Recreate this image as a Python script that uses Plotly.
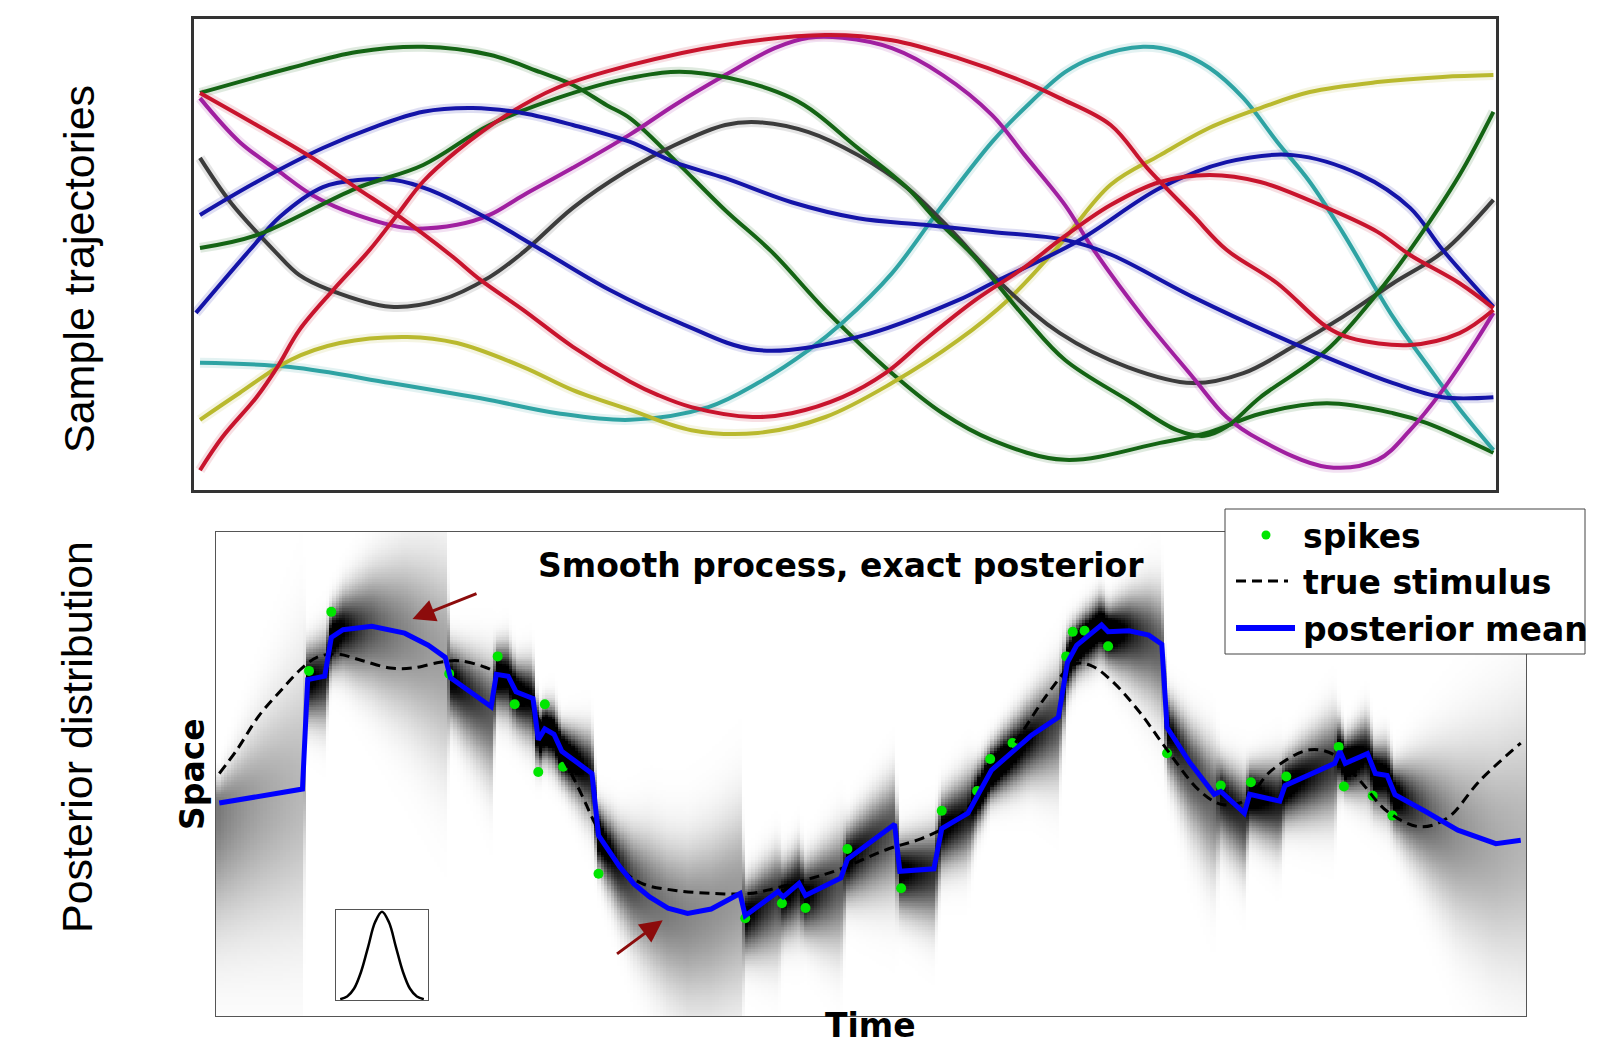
import numpy as np
import plotly.graph_objects as go

W, H = 1599, 1047


def fx(px):
    """Canvas pixel column -> paper x."""
    return px / W


def fy(py):
    """Canvas pixel row -> paper y."""
    return 1 - py / H


# ---------------- top panel: sample trajectories (time 0-100, space 0-100) ----------------
green_a_t = [0.46, 7.4, 12.5, 17.6, 22.7, 26.6, 29.1, 31.7, 33.5, 36.9, 40.8, 44.4, 48.5, 53.6, 57.5,
             61.3, 66.9, 74.2, 78.0, 81.9, 87.0, 92.1, 94.7, 99.8]
green_a_v = [84.3, 89.6, 93.0, 94.1, 92.4, 88.7, 86.0, 81.7, 78.9, 70.1, 59.4, 50.5, 38.2, 24.8, 16.3,
             10.6, 6.4, 10.0, 12.3, 16.2, 18.4, 16.3, 14.2, 7.9]

green_b_t = [0.46, 4.8, 12.5, 17.6, 22.7, 27.9, 33.5, 38.2, 45.9, 51.0, 54.8, 56.9, 59.8, 63.8, 66.9,
             71.7, 75.5, 77.6, 79.3, 81.9, 87.0, 90.9, 93.4, 97.2, 99.8]
green_b_v = [51.4, 54.1, 64.1, 69.0, 77.5, 83.2, 87.5, 88.7, 83.2, 72.6, 64.1, 57.7, 49.9, 36.7, 27.6,
             19.1, 12.7, 11.5, 13.4, 19.7, 29.7, 41.8, 51.0, 66.9, 80.3]

red_a_t = [0.46, 4.8, 9.1, 12.5, 15.6, 19.7, 22.0, 25.3, 29.1, 33.5, 35.6, 38.2, 42.9, 45.9, 49.8,
           53.1, 56.1, 60.0, 63.8, 66.5, 70.4, 74.2, 78.0, 81.9, 87.0, 90.9, 93.4, 97.2, 99.8]
red_a_v = [84.3, 77.5, 70.5, 64.1, 58.4, 49.9, 44.6, 38.2, 30.4, 23.0, 20.2, 17.6, 15.5, 16.3, 19.7,
           24.8, 31.8, 40.3, 47.3, 53.1, 60.5, 65.4, 66.9, 65.4, 59.9, 54.8, 49.9, 43.9, 38.6]

red_b_t = [0.46, 2.2, 4.8, 6.4, 8.1, 10.7, 13.5, 15.6, 17.6, 20.2, 24.0, 27.9, 33.5, 40.8, 48.5,
           53.6, 58.7, 63.8, 66.5, 70.4, 73.2, 76.7, 79.3, 83.2, 87.0, 88.8, 93.4, 97.2, 99.8]
red_b_v = [4.2, 11.3, 19.7, 26.1, 34.0, 42.5, 51.0, 58.4, 65.5, 72.0, 79.6, 85.4, 90.2, 94.5, 96.6,
           95.5, 91.7, 86.6, 83.2, 77.5, 68.4, 58.4, 51.0, 43.9, 34.6, 32.3, 30.8, 33.3, 38.2]

magenta_t = [0.46, 3.5, 6.6, 9.1, 12.5, 16.4, 20.2, 22.7, 25.3, 29.1, 33.5, 36.9, 40.8, 44.6, 47.2,
             49.8, 53.6, 57.5, 61.3, 63.8, 66.9, 69.0, 72.9, 76.7, 79.3, 81.9, 87.0, 90.9, 93.4, 95.9,
             98.5, 99.8]
magenta_v = [83.2, 73.9, 67.5, 62.6, 58.4, 55.6, 56.3, 58.4, 62.6, 68.4, 75.5, 81.7, 88.1, 93.8, 96.0,
             96.0, 93.8, 88.1, 79.6, 71.1, 60.5, 51.4, 36.7, 24.0, 15.5, 10.6, 4.9, 6.4, 12.7, 21.2,
             31.8, 37.6]

blue_a_t = [0.46, 4.8, 9.9, 13.7, 17.6, 21.4, 25.3, 29.1, 33.5, 36.9, 40.8, 45.9, 51.0, 56.1, 61.3,
            66.9, 70.4, 76.7, 84.4, 92.1, 95.9, 99.8]
blue_a_v = [58.4, 65.4, 72.6, 76.9, 80.3, 81.1, 80.0, 77.5, 73.9, 69.6, 66.2, 61.1, 57.7, 56.3, 54.8,
            53.1, 50.0, 41.0, 31.2, 22.7, 19.7, 19.7]

blue_b_t = [0.15, 4.3, 6.6, 9.9, 12.6, 15.4, 18.1, 22.3, 26.3, 31.9, 37.3, 43.3, 51.0, 58.7, 61.3,
            67.8, 74.2, 79.3, 84.4, 89.6, 93.4, 95.9, 99.8]
blue_b_v = [37.6, 51.0, 58.0, 64.3, 65.8, 65.8, 63.7, 58.0, 51.6, 42.5, 35.5, 29.7, 32.5, 40.3, 43.9,
            52.7, 64.1, 69.6, 71.1, 66.9, 59.9, 51.0, 38.9]

gray_t = [0.46, 2.8, 6.1, 8.1, 10.4, 15.1, 18.9, 22.7, 25.3, 29.1, 33.1, 36.9, 40.8, 43.3, 47.2,
          51.0, 54.8, 57.5, 62.5, 66.5, 71.7, 76.7, 80.6, 84.4, 88.2, 92.1, 95.9, 99.8]
gray_v = [70.5, 61.1, 51.0, 45.6, 42.5, 38.9, 40.3, 45.2, 50.5, 59.9, 67.5, 73.2, 77.5, 78.1, 76.0,
          71.1, 64.1, 57.0, 42.5, 33.3, 26.1, 22.7, 24.8, 30.4, 36.7, 43.9, 50.5, 61.6]

cyan_t = [0.46, 7.4, 15.1, 22.7, 27.9, 33.5, 39.5, 43.3, 47.2, 49.8, 53.6, 57.5, 61.3, 63.8, 66.9,
          69.0, 72.9, 75.5, 78.0, 80.6, 83.2, 85.7, 88.2, 92.1, 94.7, 97.2, 99.8]
cyan_v = [27.0, 26.1, 22.7, 19.1, 16.3, 14.9, 17.6, 22.7, 29.7, 35.5, 46.0, 60.5, 73.9, 81.1, 88.7,
          91.7, 94.1, 93.0, 89.6, 83.2, 73.9, 65.4, 54.8, 36.7, 26.6, 17.2, 8.5]

yellow_t = [0.46, 3.5, 7.4, 11.2, 16.4, 20.2, 25.3, 29.1, 33.5, 38.2, 43.3, 48.5, 53.6, 58.7, 62.5,
            66.5, 70.4, 74.2, 78.0, 81.9, 85.7, 90.9, 95.9, 99.8]
yellow_v = [14.9, 20.6, 27.6, 31.2, 32.5, 31.2, 26.1, 21.2, 17.0, 12.7, 12.1, 15.5, 22.7, 31.8, 40.3,
            52.1, 64.8, 71.1, 76.9, 81.1, 84.5, 86.6, 87.7, 88.1]

# ---------------- bottom panel: posterior over space for each time ----------------
post_t = [0.25, 6.6, 7.0, 8.3, 8.8, 9.7, 11.9, 14.4, 16.2, 17.5, 17.9, 21.0, 21.4, 22.3, 22.9,
          24.2, 24.6, 25.1, 25.8, 26.4, 28.7, 29.2, 30.8, 31.9, 33.1, 34.5, 36.0, 37.8, 40.0, 40.4,
          42.9, 43.3, 44.5, 45.0, 47.7, 48.2, 51.8, 52.2, 54.8, 55.4, 57.4, 58.1, 59.2, 62.2, 64.3,
          65.0, 65.7, 67.6, 68.1, 69.7, 71.2, 72.2, 72.6, 74.3, 76.2, 76.7, 78.5, 78.9, 81.2, 81.6,
          85.4, 85.8, 86.2, 87.9, 88.5, 89.4, 90.0, 92.3, 94.8, 97.7, 99.6]
post_mean = [44.0, 46.9, 69.5, 70.2, 78.2, 79.8, 80.5, 79.1, 76.6, 74.1, 69.9, 63.9, 70.6, 70.2, 67.0,
             65.6, 57.1, 59.3, 58.2, 54.7, 50.1, 37.3, 30.9, 27.3, 24.6, 22.3, 21.2, 22.1, 25.3, 20.7,
             25.7, 24.6, 27.4, 24.9, 28.5, 32.4, 39.6, 29.9, 30.4, 38.7, 41.9, 45.5, 50.8, 57.9, 61.7,
             73.1, 76.6, 80.8, 79.4, 79.6, 78.7, 76.8, 59.6, 52.5, 45.8, 46.4, 41.9, 45.8, 44.4, 47.6,
             52.2, 54.7, 52.2, 54.2, 50.1, 49.7, 45.7, 42.3, 38.4, 35.6, 36.3]
# spread of the posterior above and below the mean
post_sd_up = [3, 17, 4, 5, 3.5, 4.5, 7, 10, 12, 13, 4, 6, 3.5, 4, 3.5,
              4.5, 3, 3, 3.5, 3, 5, 3.5, 5, 6.5, 8, 8.5, 9, 10, 11, 4,
              5, 4, 4.5, 4, 6, 4, 6, 4, 5, 4, 5, 3.5, 3, 4.5, 6,
              3.5, 3, 3.5, 3, 4.5, 6, 7, 4, 5, 6, 4, 5, 3.5, 5, 3.5,
              6, 3.5, 3, 4.5, 3.5, 4, 3.5, 7, 11, 15, 17]
post_sd_down = [16, 19, 5, 6, 4, 5, 8, 11, 13, 14, 5, 9, 4.5, 5, 4.5,
                5.5, 3.5, 3.5, 4, 3.5, 6, 4, 6, 7.5, 9, 10.5, 12, 13, 14, 5,
                8, 5, 6, 5, 9, 5, 9, 5, 7, 5, 6, 4, 3.5, 5.5, 8,
                4, 3.5, 4, 4, 6, 8, 9, 5, 8, 10, 6, 7, 4.5, 6, 4.5,
                7, 4, 3.5, 5.5, 4.5, 5, 4.5, 8, 12, 15, 17]

stim_t = [0.25, 1.6, 3.3, 5.1, 6.5, 7.7, 9.2, 11.2, 13.3, 15.0, 17.1, 18.5, 20.6, 22.0, 23.8,
          24.9, 26.7, 27.9, 29.0, 30.8, 32.5, 35.2, 38.1, 40.7, 42.1, 45.0, 47.5, 51.3, 53.8, 55.9,
          57.6, 59.7, 61.7, 63.8, 65.5, 66.8, 68.4, 70.5, 72.6, 75.1, 76.8, 78.5, 80.6, 83.5, 85.4,
          87.3, 89.4, 91.9, 94.0, 96.5, 99.6]
stim_s = [50.1, 55.0, 62.1, 67.7, 71.7, 74.1, 74.8, 73.4, 71.9, 71.9, 73.1, 73.4, 72.0, 69.9, 64.9,
          60.0, 52.2, 45.8, 39.4, 30.9, 27.4, 25.9, 25.3, 25.3, 26.0, 28.1, 30.2, 34.5, 36.6, 39.4,
          43.7, 50.8, 59.3, 67.7, 72.7, 72.4, 69.2, 62.8, 55.0, 46.5, 43.7, 44.4, 50.8, 55.0, 53.9,
          48.7, 42.3, 39.1, 40.9, 48.7, 56.4]

spike_t = [7.1, 8.8, 17.8, 21.5, 22.8, 24.6, 25.1, 26.5, 29.2, 40.4, 43.2, 45.0, 48.2, 52.3, 55.4,
           58.1, 59.1, 60.8, 64.9, 65.4, 66.3, 68.1, 72.6, 76.7, 79.0, 81.7, 85.7, 86.1, 88.3, 89.8]
spike_s = [71.3, 83.5, 70.7, 74.3, 64.4, 50.4, 64.4, 51.5, 29.4, 20.2, 23.3, 22.3, 34.5, 26.4, 42.4,
           46.5, 53.1, 56.4, 74.3, 79.4, 79.6, 76.4, 54.3, 47.6, 48.3, 49.5, 55.6, 47.4, 45.5, 41.4]

# tuning-curve icon in the corner
tuning_x = [-3, -2.5, -2, -1.5, -1, -0.5, 0, 0.5, 1, 1.5, 2, 2.5, 3]
tuning_y = [0.01, 0.04, 0.13, 0.32, 0.6, 0.88, 1.0, 0.88, 0.6, 0.32, 0.13, 0.04, 0.01]

fig = go.Figure()

# --- sample trajectories, each with a faint halo underneath ---
trajectories = [
    (green_a_t, green_a_v, '#146414'),
    (cyan_t, cyan_v, '#2ea3a3'),
    (yellow_t, yellow_v, '#b9b92e'),
    (gray_t, gray_v, '#3c3c3c'),
    (magenta_t, magenta_v, '#a01fa0'),
    (blue_b_t, blue_b_v, '#1414a8'),
    (green_b_t, green_b_v, '#146414'),
    (red_b_t, red_b_v, '#c8142d'),
    (blue_a_t, blue_a_v, '#1414a8'),
    (red_a_t, red_a_v, '#c8142d'),
]
for t, v, col in trajectories:
    fig.add_trace(go.Scatter(x=t, y=v, mode='lines', xaxis='x', yaxis='y',
                             line=dict(color=col, width=10, shape='spline'), opacity=0.13,
                             hoverinfo='skip', showlegend=False))
for t, v, col in trajectories:
    fig.add_trace(go.Scatter(x=t, y=v, mode='lines', xaxis='x', yaxis='y',
                             line=dict(color=col, width=4, shape='spline'),
                             hoverinfo='skip', showlegend=False))

# --- posterior density image (split-normal per time column) ---
t_grid = np.linspace(0, 100, 401)
s_grid = np.linspace(0, 100, 201)
mu = np.interp(t_grid, post_t, post_mean)
s_up = np.interp(t_grid, post_t, post_sd_up)
s_dn = np.interp(t_grid, post_t, post_sd_down)
offset = s_grid[:, None] - mu[None, :]
spread = np.where(offset >= 0, s_up[None, :], s_dn[None, :])
peak = 5.0 / (0.5 * (s_up + s_dn))
dens = np.clip(peak[None, :] * np.exp(-0.5 * (offset / spread) ** 2), 0, 1)

fig.add_trace(go.Heatmap(x=t_grid, y=s_grid, z=dens, xaxis='x2', yaxis='y2',
                         colorscale=[[0, '#ffffff'], [1, '#000000']], zmin=0, zmax=1,
                         showscale=False, hoverinfo='skip'))

fig.add_trace(go.Scatter(x=spike_t, y=spike_s, mode='markers', xaxis='x2', yaxis='y2',
                         marker=dict(color='#00e600', size=10), name='spikes', showlegend=False))
fig.add_trace(go.Scatter(x=stim_t, y=stim_s, mode='lines', xaxis='x2', yaxis='y2',
                         line=dict(color='black', width=3, dash='10px,6px', shape='spline'),
                         name='true stimulus', showlegend=False))
fig.add_trace(go.Scatter(x=post_t, y=post_mean, mode='lines', xaxis='x2', yaxis='y2',
                         line=dict(color='#0000ff', width=5),
                         name='posterior mean', showlegend=False))

fig.add_trace(go.Scatter(x=tuning_x, y=tuning_y, mode='lines', xaxis='x3', yaxis='y3',
                         line=dict(color='black', width=2.5, shape='spline'),
                         hoverinfo='skip', showlegend=False))

bare = dict(showgrid=False, zeroline=False, showticklabels=False, ticks='', mirror=True, showline=True)

fig.update_layout(
    width=W, height=H,
    margin=dict(l=0, r=0, t=0, b=0),
    paper_bgcolor='white', plot_bgcolor='white',
    showlegend=False,
    xaxis=dict(domain=[fx(194), fx(1496)], range=[0, 100], anchor='y',
               linecolor='#333333', linewidth=2.5, **bare),
    yaxis=dict(domain=[fy(490), fy(19)], range=[0, 100], anchor='x',
               linecolor='#333333', linewidth=2.5, **bare),
    xaxis2=dict(domain=[fx(216), fx(1526)], range=[0, 100], anchor='y2',
                linecolor='#555555', linewidth=1, **bare),
    yaxis2=dict(domain=[fy(1016), fy(532)], range=[0, 100], anchor='x2',
                linecolor='#555555', linewidth=1, **bare),
    xaxis3=dict(domain=[fx(336), fx(428)], range=[-3.3, 3.3], anchor='y3',
                linecolor='#555555', linewidth=1, **bare),
    yaxis3=dict(domain=[fy(1000), fy(910)], range=[0, 1.02], anchor='x3',
                linecolor='#555555', linewidth=1, **bare),
)

bold = dict(family='DejaVu Sans', size=33, color='black')
plain = dict(family='Liberation Sans', size=43, color='black')

annotations = [
    dict(text='<b>Smooth process, exact posterior</b>', x=fx(841), y=fy(565),
         xanchor='center', yanchor='middle', font=bold),
    dict(text='<b>spikes</b>', x=fx(1301), y=fy(536), xanchor='left', yanchor='middle', font=bold),
    dict(text='<b>true stimulus</b>', x=fx(1301), y=fy(582), xanchor='left', yanchor='middle', font=bold),
    dict(text='<b>posterior mean</b>', x=fx(1301), y=fy(629), xanchor='left', yanchor='middle', font=bold),
    dict(text='<b>Space</b>', x=fx(192), y=fy(774), textangle=-90,
         xanchor='center', yanchor='middle', font=bold),
    dict(text='<b>Time</b>', x=fx(870), y=0, xanchor='center', yanchor='bottom', font=bold),
    dict(text='Sample trajectories', x=fx(79), y=fy(269), textangle=-90,
         xanchor='center', yanchor='middle', font=plain),
    dict(text='Posterior distribution', x=fx(77), y=fy(737), textangle=-90,
         xanchor='center', yanchor='middle', font=plain),
]
for a in annotations:
    a.update(xref='paper', yref='paper', showarrow=False)

# dark-red pointers onto the posterior mean
arrow_style = dict(xref='x2', yref='y2', axref='x2', ayref='y2', text='', showarrow=True,
                   arrowhead=2, arrowsize=1.5, arrowwidth=3, arrowcolor='#8c0c0c', standoff=0)
annotations.append(dict(x=15.0, y=82.0, ax=20.0, ay=87.4, **arrow_style))
annotations.append(dict(x=34.1, y=19.8, ax=30.5, ay=12.6, **arrow_style))
fig.update_layout(annotations=annotations)

# legend box drawn over the upper-right corner
shapes = [
    dict(type='rect', xref='paper', yref='paper', x0=fx(1225), x1=fx(1585), y0=fy(654), y1=fy(509),
         fillcolor='white', line=dict(color='#444444', width=1), layer='above'),
    dict(type='circle', xref='paper', yref='paper', x0=fx(1261.5), x1=fx(1270.5),
         y0=fy(539.5), y1=fy(530.5), fillcolor='#00e600', line=dict(width=0), layer='above'),
    dict(type='line', xref='paper', yref='paper', x0=fx(1236), x1=fx(1288), y0=fy(581), y1=fy(581),
         line=dict(color='black', width=3, dash='10px,6px'), layer='above'),
    dict(type='line', xref='paper', yref='paper', x0=fx(1236), x1=fx(1295), y0=fy(628), y1=fy(628),
         line=dict(color='#0000ff', width=6), layer='above'),
]
fig.update_layout(shapes=shapes)

fig.write_html('out.html')
